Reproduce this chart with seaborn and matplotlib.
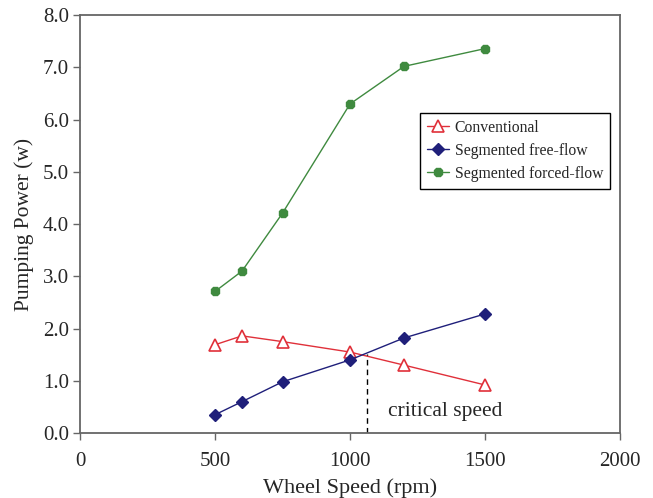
#!/usr/bin/env python3

import pandas as pd
import matplotlib
matplotlib.use("Agg")
import matplotlib.pyplot as plt
import seaborn as sns

speed = [500, 600, 750, 1000, 1200, 1500]
conventional = [1.69, 1.86, 1.75, 1.55, 1.30, 0.92]
free_flow = [0.35, 0.60, 0.98, 1.40, 1.82, 2.28]
forced_flow = [2.71, 3.10, 4.21, 6.30, 7.02, 7.36]

series_names = ["Conventional", "Segmented free-flow", "Segmented forced-flow"]
critical_speed = 1062
critical_power = 1.52


def build_frame() -> pd.DataFrame:
    parts = []
    for name, vals in zip(series_names, [conventional, free_flow, forced_flow]):
        parts.append(pd.DataFrame({"speed": speed, "power": vals, "series": name}))
    return pd.concat(parts, ignore_index=True)


def main():
    df = build_frame()

    sns.set_theme(style="white")
    plt.rcParams["font.family"] = ["Liberation Serif", "DejaVu Serif"]

    fig = plt.figure(figsize=(6.53, 4.98), dpi=100)
    ax = fig.add_axes([0.1225, 0.1305, 0.827, 0.839])

    styles = {
        "Conventional": dict(color="#e0303a", marker="^", mfc="white", mec="#e0303a", ms=8, mew=1.2),
        "Segmented free-flow": dict(color="#1f1f7a", marker="D", mfc="#1f1f7a", mec="#1f1f7a", ms=6),
        "Segmented forced-flow": dict(color="#3f8a3f", marker="8", mfc="#3f8a3f", mec="#3f8a3f", ms=7),
    }
    for name in series_names:
        sub = df[df["series"] == name]
        st = styles[name]
        sns.lineplot(data=sub, x="speed", y="power", ax=ax, label=name,
                     color=st["color"], marker=st["marker"], markersize=st["ms"],
                     markerfacecolor=st["mfc"], markeredgecolor=st["mec"],
                     markeredgewidth=st.get("mew", 1.0), linewidth=1.0)

    ax.plot([critical_speed, critical_speed], [0, critical_power], color="black",
            linestyle=(0, (4, 3)), linewidth=1.0)
    ax.text(1140, 0.42, "critical speed", fontsize=15.5, ha="left", va="center")

    ax.set_xlim(0, 2000)
    ax.set_ylim(0, 8.0)
    ax.set_xticks([0, 500, 1000, 1500, 2000])
    ax.set_yticks([i * 1.0 for i in range(9)])
    ax.set_yticklabels([f"{i:.1f}" for i in range(9)])
    ax.tick_params(axis="both", direction="out", length=5, width=1, color="#666666",
                   labelsize=15, left=True, bottom=True)
    ax.tick_params(axis="x", pad=9)
    ax.tick_params(axis="y", pad=3)
    for sp in ax.spines.values():
        sp.set_color("#666666")
        sp.set_linewidth(1.3)

    ax.set_xlabel("Wheel Speed (rpm)", fontsize=16, labelpad=5)
    ax.set_ylabel("Pumping Power (w)", fontsize=15.5, labelpad=6)

    leg = ax.legend(loc="upper left", bbox_to_anchor=(0.63, 0.767), borderaxespad=0,
                    fontsize=11.3, frameon=True, fancybox=False, edgecolor="black",
                    framealpha=1, handlelength=1.4, handletextpad=0.35, borderpad=0.45,
                    labelspacing=0.45)
    leg.get_frame().set_linewidth(1.0)

    fig.savefig("out.png", dpi=100)
    plt.close(fig)


if __name__ == "__main__":
    main()
